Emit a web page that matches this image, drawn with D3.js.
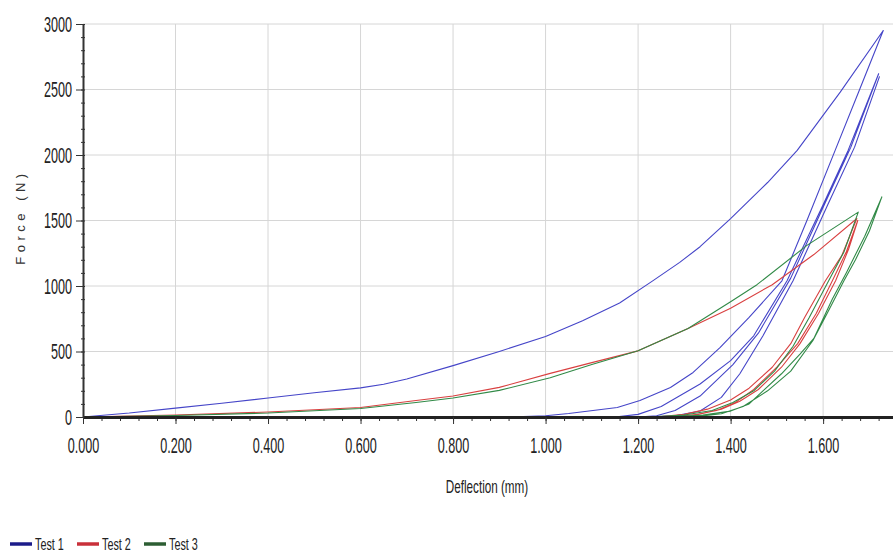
<!DOCTYPE html>
<html>
<head>
<meta charset="utf-8">
<script src="https://cdn.jsdelivr.net/npm/d3@7"></script>
<style>
  body { margin: 0; background: #fff; }
  svg { display: block; }
  .tick-label { font-family: "Liberation Sans Narrow", "Arial Narrow", "Liberation Sans", sans-serif; font-size: 14px; fill: #222; }
</style>
</head>
<body>
<svg></svg>
<script>
const test1 = [
  [0, 0], [0.1, 30], [0.2, 68], [0.3, 105], [0.4, 145], [0.5, 185], [0.6, 222], [0.65, 250],
  [0.7, 290], [0.8, 392], [0.9, 500], [1.0, 615], [1.08, 735], [1.16, 870], [1.23, 1035],
  [1.29, 1180], [1.334, 1300], [1.4, 1515], [1.48, 1790], [1.544, 2035], [1.637, 2480], [1.73, 2950],
  [1.68, 2510], [1.626, 2035], [1.565, 1500], [1.511, 1040], [1.44, 760], [1.377, 530], [1.319, 340],
  [1.27, 225], [1.204, 126], [1.155, 73], [1.05, 27], [1.0, 10], [0.92, 0], [1.15, 0],
  [1.2, 20], [1.25, 80], [1.334, 252], [1.4, 430], [1.45, 620], [1.522, 1040], [1.6, 1620],
  [1.654, 2035], [1.72, 2620],
  [1.66, 2060], [1.605, 1640], [1.53, 1060], [1.46, 640], [1.405, 400], [1.334, 160], [1.28, 50],
  [1.24, 10], [1.2, 0], [1.22, 0],
  [1.28, 10], [1.334, 46], [1.38, 150], [1.42, 330], [1.47, 620], [1.535, 1040], [1.61, 1620],
  [1.668, 2060], [1.722, 2600]
];

const test2 = [
  [0, 0], [0.2, 15], [0.4, 38], [0.6, 73], [0.72, 126], [0.8, 160], [0.9, 226], [1.01, 333],
  [1.1, 415], [1.2, 505], [1.308, 675], [1.4, 830], [1.49, 1010], [1.58, 1240], [1.673, 1515],
  [1.64, 1230], [1.605, 1040], [1.56, 760], [1.53, 560], [1.49, 380], [1.44, 220], [1.4, 130],
  [1.35, 60], [1.3, 20], [1.24, 0],
  [1.32, 15], [1.37, 50], [1.41, 110], [1.45, 210], [1.5, 380], [1.545, 560], [1.585, 790],
  [1.62, 1040], [1.65, 1260], [1.675, 1500],
  [1.655, 1280], [1.627, 1040], [1.59, 790], [1.55, 560], [1.51, 380], [1.46, 210], [1.42, 120],
  [1.38, 60], [1.33, 20], [1.27, 0]
];

const test3 = [
  [0, 0], [0.2, 12], [0.4, 30], [0.6, 65], [0.72, 111], [0.8, 145], [0.9, 203], [1.01, 300],
  [1.1, 400], [1.2, 505], [1.308, 675], [1.4, 880], [1.457, 1010], [1.565, 1310], [1.676, 1564],
  [1.645, 1260], [1.612, 1040], [1.57, 760], [1.535, 540], [1.495, 350], [1.45, 200], [1.405, 110],
  [1.36, 50], [1.3, 15], [1.22, 0], [1.26, 0],
  [1.34, 15], [1.4, 45], [1.44, 100], [1.47, 200], [1.51, 330], [1.55, 480], [1.58, 600],
  [1.62, 900], [1.65, 1100], [1.69, 1380], [1.727, 1680],
  [1.7, 1420], [1.67, 1200], [1.645, 1040], [1.61, 800], [1.578, 584], [1.53, 350], [1.48, 200],
  [1.427, 80], [1.38, 25], [1.33, 5], [1.28, 0]
];

const seriesNames = ['Test 1', 'Test 2', 'Test 3'];
const lineColors = ['#4545c8', '#d94040', '#318a47'];
const legendColors = ['#1c1c8a', '#c9303a', '#2d5e33'];
const xTicks = [0, 0.2, 0.4, 0.6, 0.8, 1.0, 1.2, 1.4, 1.6];
const yTicks = [0, 500, 1000, 1500, 2000, 2500, 3000];

const width = 893,
      height = 553,
      margin = { top: 24, right: 0, bottom: 136, left: 83 };

const $svg = d3.select('svg')
  .attr('width', width)
  .attr('height', height);

const x = d3.scaleLinear().domain([0, 1.75]).range([margin.left, width - 0.5]);
const y = d3.scaleLinear().domain([0, 3000]).range([height - margin.bottom, margin.top]);

// grid
$svg.append('g')
  .selectAll('line')
  .data(xTicks.slice(1))
  .enter()
  .append('line')
    .attr('x1', (d) => x(d)).attr('x2', (d) => x(d))
    .attr('y1', y(3000)).attr('y2', y(0))
    .attr('stroke', '#d6d6d6');

$svg.append('g')
  .selectAll('line')
  .data(yTicks.slice(1))
  .enter()
  .append('line')
    .attr('x1', x(0)).attr('x2', width)
    .attr('y1', (d) => y(d)).attr('y2', (d) => y(d))
    .attr('stroke', '#d6d6d6');

// curves
const line = d3.line()
  .x((d) => x(d[0]))
  .y((d) => y(d[1]));

[test1, test2, test3].forEach((data, i) => {
  $svg.append('path')
    .datum(data)
    .attr('fill', 'none')
    .attr('stroke', lineColors[i])
    .attr('stroke-width', 1.1)
    .attr('stroke-linejoin', 'round')
    .attr('d', line);
});

// minor ticks
const xMinor = d3.range(0, 1.75, 0.04);
const yMinor = d3.range(0, 3001, 100);

$svg.append('g')
  .attr('transform', `translate(0,${y(0)})`)
  .call(d3.axisBottom(x).tickValues(xMinor).tickSize(4).tickFormat(''))
  .call((g) => g.select('.domain').remove())
  .selectAll('line').attr('stroke', '#333');

$svg.append('g')
  .attr('transform', `translate(${x(0)},0)`)
  .call(d3.axisLeft(y).tickValues(yMinor).tickSize(3).tickFormat(''))
  .call((g) => g.select('.domain').remove())
  .selectAll('line').attr('stroke', '#333').attr('x2', 2).attr('x1', -2);

// major axes
const xAxis = $svg.append('g')
  .attr('transform', `translate(0,${y(0)})`)
  .call(d3.axisBottom(x).tickValues(xTicks).tickSize(7).tickFormat(d3.format('.3f')).tickSizeOuter(0));

xAxis.select('.domain').attr('stroke', '#222').attr('stroke-width', 3);
xAxis.selectAll('.tick line').attr('stroke', '#333');
xAxis.selectAll('.tick text')
  .attr('class', 'tick-label')
  .attr('y', 0)
  .attr('dy', 0)
  .attr('transform', 'translate(0,36) scale(0.9,1.55)');

const yAxis = $svg.append('g')
  .attr('transform', `translate(${x(0)},0)`)
  .call(d3.axisLeft(y).tickValues(yTicks).tickSize(7).tickFormat(d3.format('d')).tickSizeOuter(0));

yAxis.select('.domain').attr('stroke', '#333').attr('stroke-width', 2);
yAxis.selectAll('.tick line').attr('stroke', '#333');
yAxis.selectAll('.tick text')
  .attr('class', 'tick-label')
  .attr('x', 0)
  .attr('dy', 0)
  .attr('transform', 'translate(-11,7) scale(0.9,1.55)');

// axis titles
$svg.append('text')
  .attr('x', 487)
  .attr('y', 493)
  .attr('text-anchor', 'middle')
  .attr('transform', 'translate(487,493) scale(0.9,1.45) translate(-487,-493)')
  .style('font-family', '"Liberation Sans Narrow", "Liberation Sans", sans-serif')
  .style('font-size', '13px')
  .style('fill', '#222')
  .text('Deflection (mm)');

$svg.append('text')
  .attr('transform', 'translate(25,217) rotate(-90)')
  .attr('text-anchor', 'middle')
  .style('font-family', '"Liberation Sans", Arial, sans-serif')
  .style('font-size', '13px')
  .style('letter-spacing', '4.5px')
  .style('fill', '#333')
  .text('Force (N)');

// legend
const legend = $svg.append('g')
  .selectAll('.legend')
  .data(seriesNames)
  .enter()
  .append('g')
    .classed('legend', true)
    .attr('transform', (d, i) => `translate(${10 + i * 67},544)`);

legend.append('line')
  .attr('x1', 0).attr('x2', 22)
  .attr('stroke', (d, i) => legendColors[i])
  .attr('stroke-width', 3.5);

legend.append('text')
  .attr('transform', 'translate(25,6) scale(0.9,1.45)')
  .style('font-family', '"Liberation Sans Narrow", "Liberation Sans", sans-serif')
  .style('font-size', '12px')
  .style('fill', '#222')
  .text((d) => d);
</script>
</body>
</html>
